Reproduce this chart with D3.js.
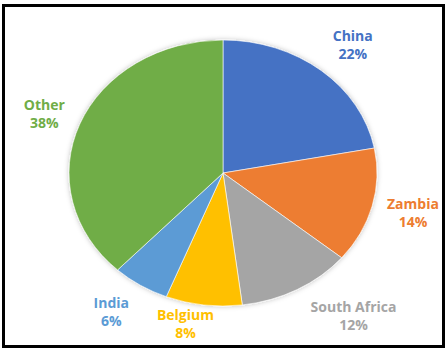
<!DOCTYPE html>
<html>
<head>
<meta charset="utf-8">
<script src="https://cdn.jsdelivr.net/npm/d3@7"></script>
<style>
  html, body { margin: 0; padding: 0; background: #fff; }
  svg { display: block; }
</style>
</head>
<body>
<div id="chart"></div>
<script>
const countries = ["China", "Zambia", "South Africa", "Belgium", "India", "Other"]
const shares = [22, 14, 12, 8, 6, 38]
const colors = ["#4472C4", "#ED7D31", "#A5A5A5", "#FFC000", "#5B9BD5", "#70AD47"]

const width = 448, height = 352
const cx = 223, cy = 173
const ry = 133, rx = 154

const svg = d3.select("#chart").append("svg")
      .attr("width", width)
      .attr("height", height)
      .style("font-family", "'Open Sans', 'Noto Sans', sans-serif")

const defs = svg.append("defs")
const shadow = defs.append("filter").attr("id", "glow")
      .attr("x", "-10%").attr("y", "-10%").attr("width", "120%").attr("height", "120%")
shadow.append("feDropShadow")
      .attr("dx", 0).attr("dy", 0).attr("stdDeviation", 2.5)
      .attr("flood-color", "#000").attr("flood-opacity", 0.25)

// outer frame
svg.append("rect")
      .attr("x", 3.5).attr("y", 5.5)
      .attr("width", 440).attr("height", 341)
      .attr("fill", "#fff")
      .attr("stroke", "#000")
      .attr("stroke-width", 3)

const pie = d3.pie().sort(null).value(d => d)
const arcs = pie(shares)
const arc = d3.arc().innerRadius(0).outerRadius(ry)

// pie is drawn as a circle and stretched into an ellipse
const g = svg.append("g")
      .attr("transform", `translate(${cx},${cy}) scale(${rx / ry},1)`)
      .attr("filter", "url(#glow)")

g.selectAll("path")
      .data(arcs)
      .join("path")
      .attr("d", arc)
      .attr("fill", (d, i) => colors[i])
      .attr("stroke", "#fff")
      .attr("stroke-width", 0.6)
      .attr("vector-effect", "non-scaling-stroke")

// labels sit just outside the ellipse, then nudged like Excel does
const k = 1.22
const nudgeX = [10, 8, 40, -14, -11, -4]
const nudgeY = [-3, 0, 1, -10, 2, 1]
const labels = svg.append("g")
arcs.forEach((d, i) => {
      const a = (d.startAngle + d.endAngle) / 2
      const x = cx + k * rx * Math.sin(a) + nudgeX[i]
      const y = cy - k * ry * Math.cos(a) + nudgeY[i]
      const t = labels.append("text")
            .attr("text-anchor", "middle")
            .attr("fill", colors[i])
            .attr("font-size", 14)
            .attr("font-weight", "bold")
      t.append("tspan").attr("x", x).attr("y", y - 4).text(countries[i])
      t.append("tspan").attr("x", x).attr("y", y + 14).text(shares[i] + "%")
})
</script>
</body>
</html>
